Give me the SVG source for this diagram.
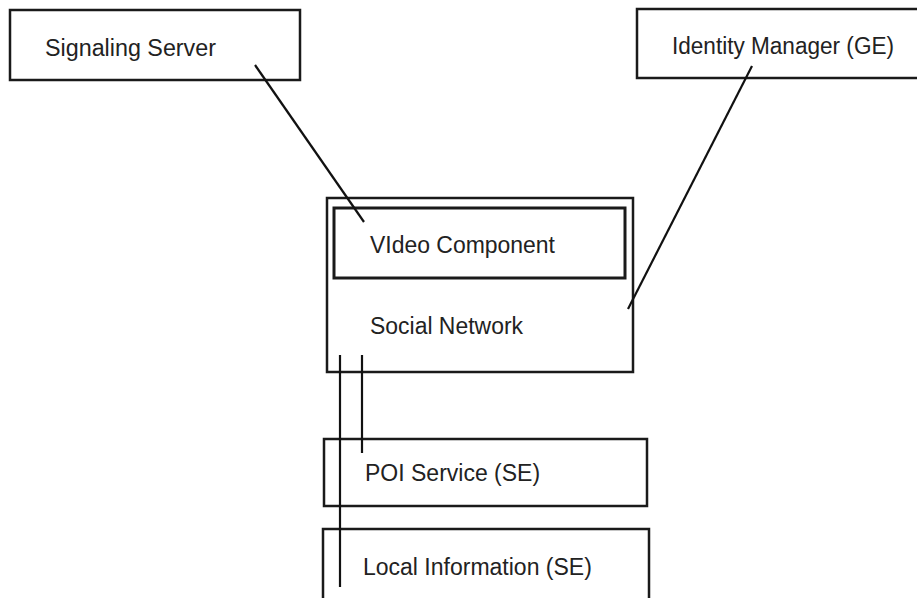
<svg xmlns="http://www.w3.org/2000/svg" width="917" height="598" viewBox="0 0 917 598">
<style>
.box{fill:#fff;stroke:#1a1a1a;stroke-width:2.5}
.inner{fill:none;stroke:#1a1a1a;stroke-width:3}
.lbl{font-family:"Liberation Sans",Arial,Helvetica,sans-serif;font-size:23px;fill:#222}
.conn line{stroke:#111;stroke-width:2.2}
</style>
<rect width="917" height="598" fill="#fff"/>
<g id="signaling-server">
<rect class="box" x="10" y="10" width="290" height="70"/>
<text class="lbl" x="45" y="56" textLength="171" lengthAdjust="spacingAndGlyphs">Signaling Server</text>
</g>
<g id="identity-manager">
<rect class="box" x="637" y="9" width="300" height="69"/>
<text class="lbl" x="672" y="54" textLength="222" lengthAdjust="spacingAndGlyphs">Identity Manager (GE)</text>
</g>
<g id="social-network">
<rect class="box" x="327" y="198" width="306" height="174"/>
<text class="lbl" x="370" y="334" textLength="153" lengthAdjust="spacingAndGlyphs">Social Network</text>
</g>
<g id="video-component">
<rect class="inner" x="334" y="208" width="291" height="70"/>
<text class="lbl" x="370" y="253" textLength="185" lengthAdjust="spacingAndGlyphs">VIdeo Component</text>
</g>
<g id="poi-service">
<rect class="box" x="324" y="439" width="323" height="67"/>
<text class="lbl" x="365" y="481">POI Service (SE)</text>
</g>
<g id="local-information">
<rect class="box" x="323" y="529" width="326" height="90"/>
<text class="lbl" x="363" y="575">Local Information (SE)</text>
</g>
<g id="connectors" class="conn">
<line x1="255" y1="65" x2="364" y2="222"/>
<line x1="752" y1="66" x2="628" y2="309"/>
<line x1="340" y1="355" x2="340" y2="587"/>
<line x1="362" y1="355" x2="362" y2="453"/>
</g>
</svg>
